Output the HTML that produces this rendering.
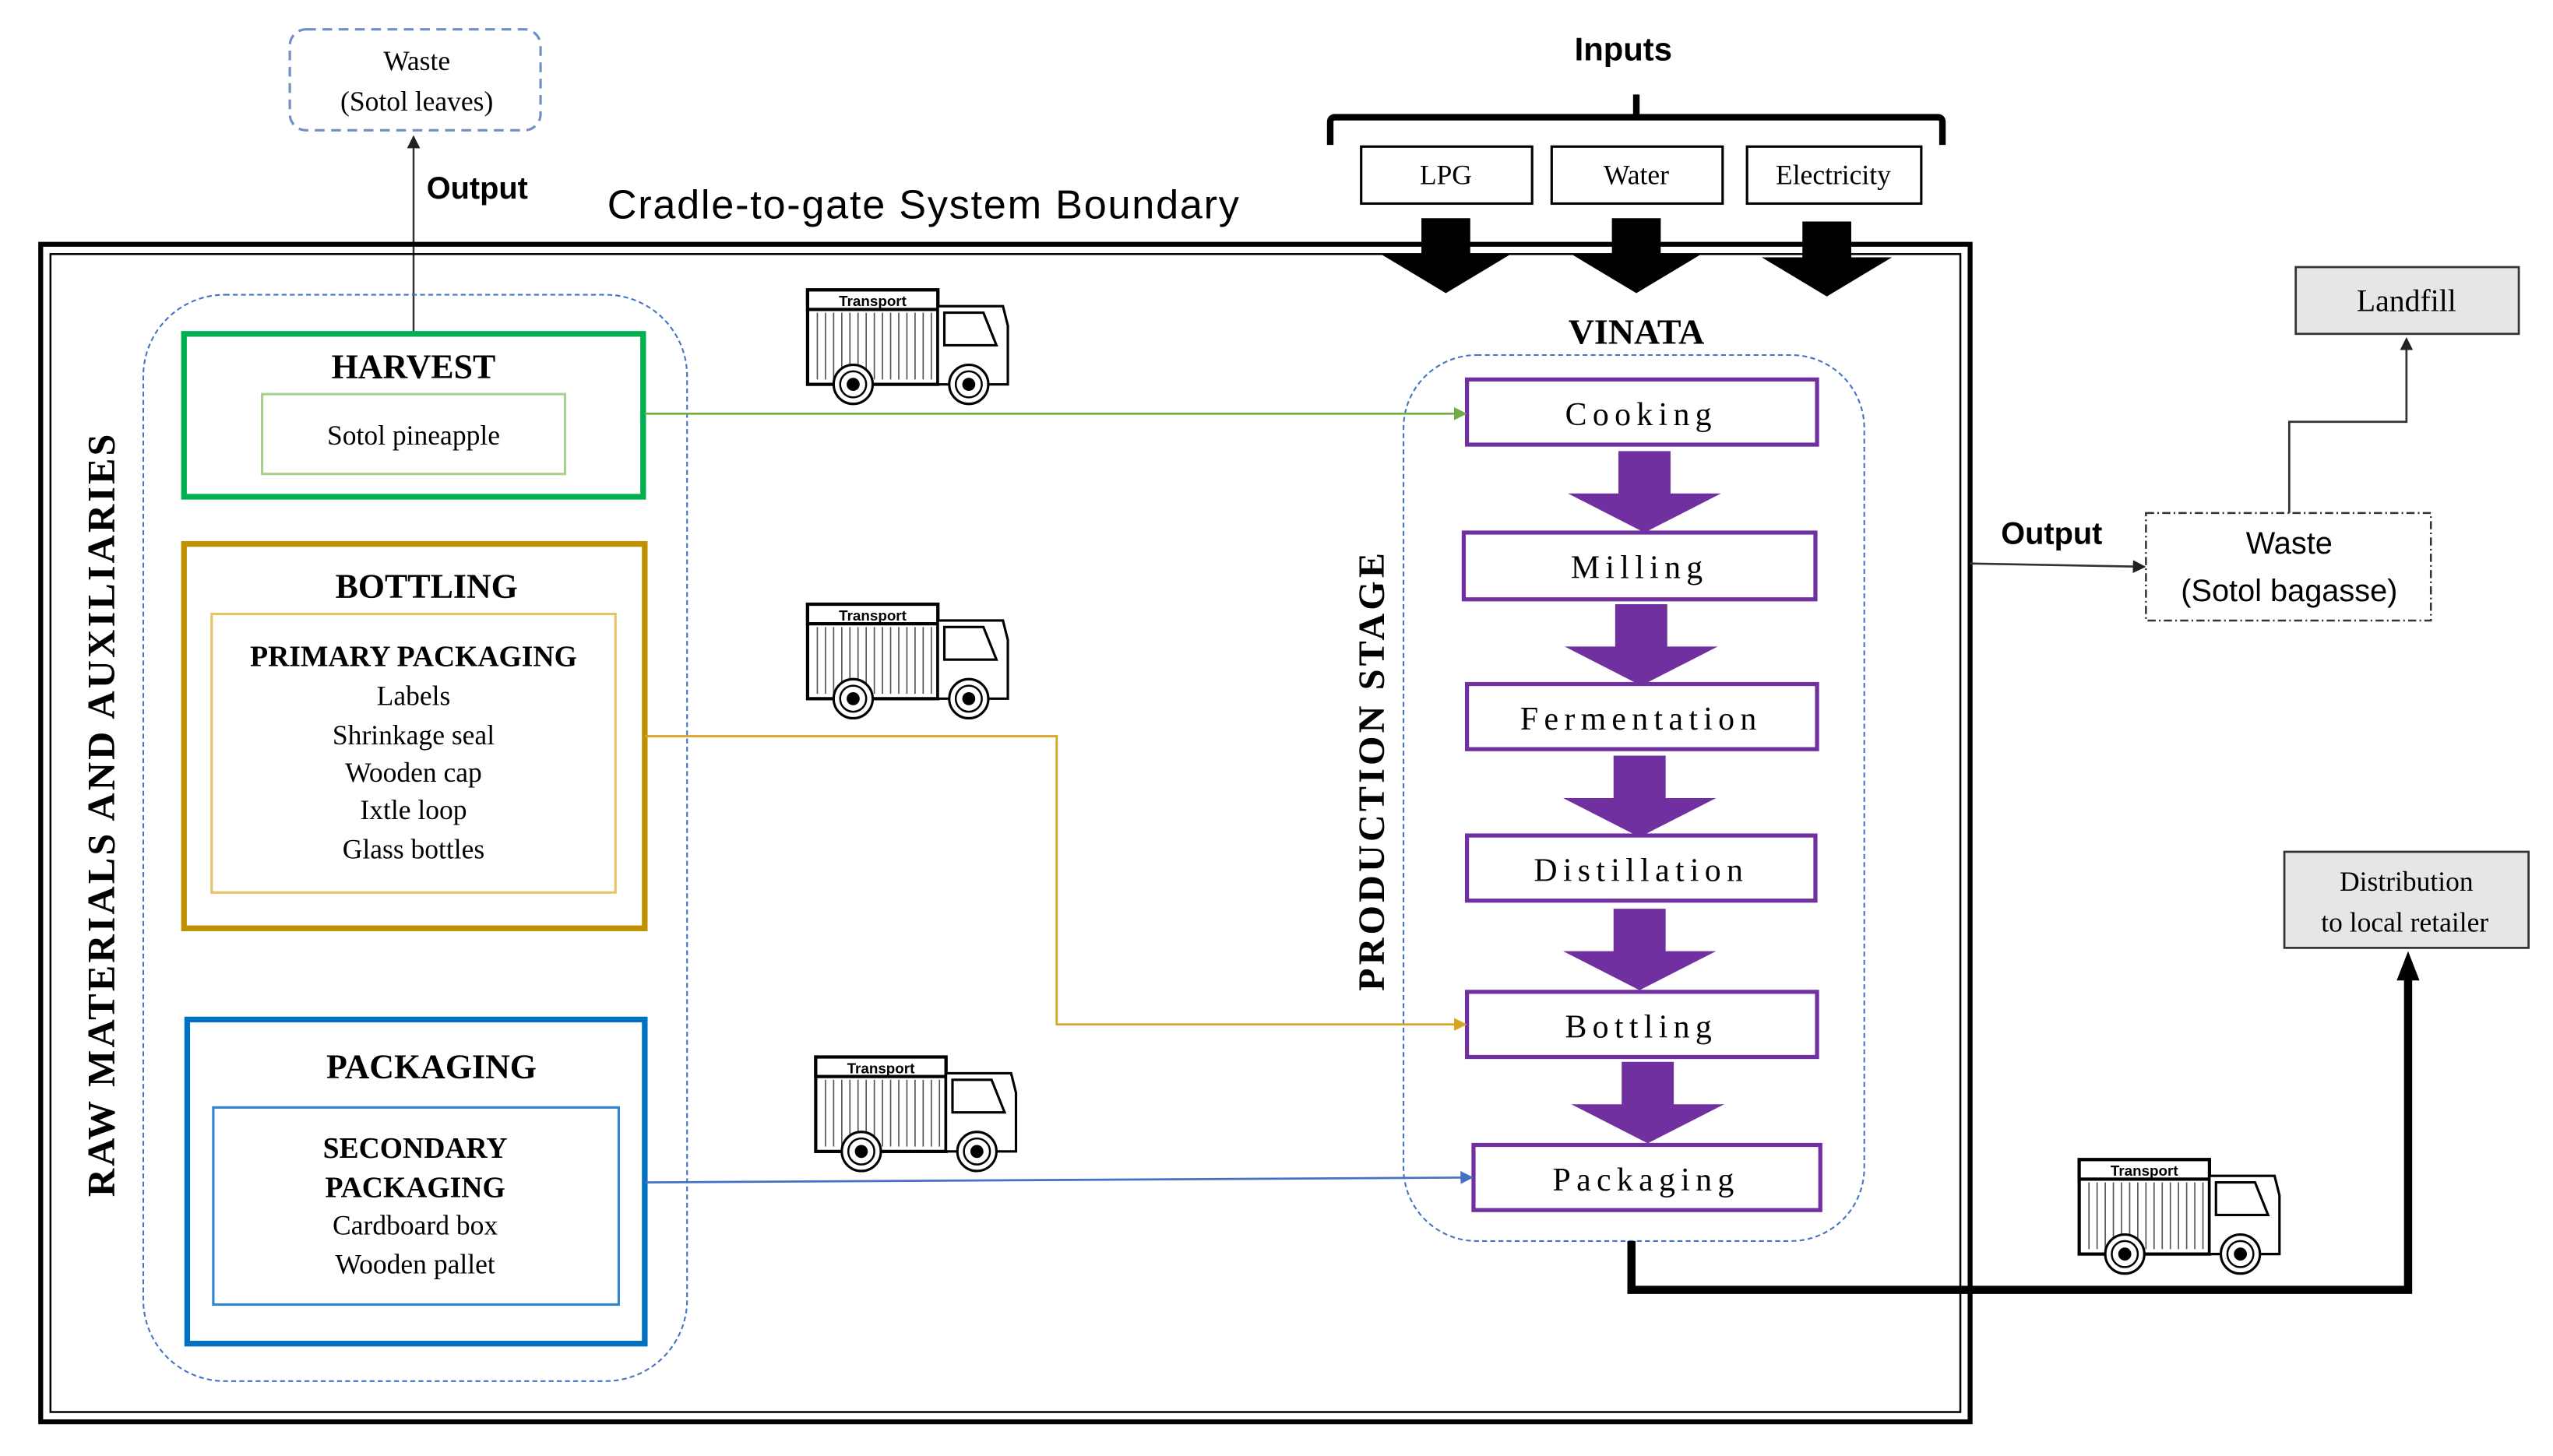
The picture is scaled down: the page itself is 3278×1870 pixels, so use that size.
<!DOCTYPE html>
<html><head><meta charset="utf-8"><style>html,body{margin:0;padding:0;background:#fff}svg{display:block}</style></head><body>
<svg width="3278" height="1870" viewBox="0 0 1568 894" preserveAspectRatio="none" xmlns="http://www.w3.org/2000/svg">
<defs>
<marker id="ab" markerWidth="8" markerHeight="8" refX="7" refY="4" orient="auto" markerUnits="userSpaceOnUse"><path d="M0,0 L8,4 L0,8 z" fill="#222"/></marker>
<marker id="ag" markerWidth="8" markerHeight="8" refX="7" refY="4" orient="auto" markerUnits="userSpaceOnUse"><path d="M0,0 L8,4 L0,8 z" fill="#70ad47"/></marker>
<marker id="ao" markerWidth="8" markerHeight="8" refX="7" refY="4" orient="auto" markerUnits="userSpaceOnUse"><path d="M0,0 L8,4 L0,8 z" fill="#d9a520"/></marker>
<marker id="al" markerWidth="8" markerHeight="8" refX="7" refY="4" orient="auto" markerUnits="userSpaceOnUse"><path d="M0,0 L8,4 L0,8 z" fill="#4472c4"/></marker>
<g id="truck">
<rect x="0" y="0" width="80" height="58" fill="#fff" stroke="#000" stroke-width="2"/>
<rect x="0" y="0" width="80" height="12" fill="#fff" stroke="#000" stroke-width="2"/>
<text x="40" y="10" font-family="Liberation Sans, sans-serif" font-size="9" font-weight="bold" text-anchor="middle">Transport</text>
<g stroke="#555" stroke-width="0.8">
<line x1="6" y1="14" x2="6" y2="55"/><line x1="11" y1="14" x2="11" y2="55"/><line x1="16" y1="14" x2="16" y2="55"/><line x1="21" y1="14" x2="21" y2="55"/><line x1="26" y1="14" x2="26" y2="55"/><line x1="31" y1="14" x2="31" y2="55"/><line x1="36" y1="14" x2="36" y2="55"/><line x1="41" y1="14" x2="41" y2="55"/><line x1="46" y1="14" x2="46" y2="55"/><line x1="51" y1="14" x2="51" y2="55"/><line x1="56" y1="14" x2="56" y2="55"/><line x1="61" y1="14" x2="61" y2="55"/><line x1="66" y1="14" x2="66" y2="55"/><line x1="71" y1="14" x2="71" y2="55"/><line x1="76" y1="14" x2="76" y2="55"/></g>
<path d="M80,10 L120,10 L123,22 L123,58 L80,58 z" fill="#fff" stroke="#000" stroke-width="1.5"/>
<path d="M84,14 L108,14 L116,34 L84,34 z" fill="#fff" stroke="#000" stroke-width="1.5"/>
<circle cx="28" cy="58" r="12" fill="#fff" stroke="#000" stroke-width="1.5"/><circle cx="28" cy="58" r="8" fill="#fff" stroke="#000" stroke-width="1.2"/><circle cx="28" cy="58" r="4" fill="#000"/>
<circle cx="99" cy="58" r="12" fill="#fff" stroke="#000" stroke-width="1.5"/><circle cx="99" cy="58" r="8" fill="#fff" stroke="#000" stroke-width="1.2"/><circle cx="99" cy="58" r="4" fill="#000"/>
</g>
<path id="parr" d="M-16,0 L16,0 L16,26 L47,26 L0,50 L-47,26 L-16,26 z" fill="#7030a0"/>
<path id="barr" d="M-15,0 L15,0 L15,22 L40,22 L0,46 L-40,22 L-15,22 z" fill="#000"/>
</defs>

<rect x="178" y="18" width="154" height="62" rx="10" fill="#fff" stroke="#6f8fc0" stroke-width="1.5" stroke-dasharray="6,4"/>
<g font-family="Liberation Serif, serif" font-size="17" text-anchor="middle">
<text x="256" y="43">Waste</text><text x="256" y="68">(Sotol leaves)</text></g>
<line x1="254" y1="205" x2="254" y2="84" stroke="#333" stroke-width="1.2" marker-end="url(#ab)"/>
<text x="262" y="122" font-family="Liberation Sans, sans-serif" font-size="19" font-weight="bold">Output</text>
<text x="373" y="134" font-family="Liberation Sans, sans-serif" font-size="25" textLength="388">Cradle-to-gate System Boundary</text>

<rect x="25" y="150" width="1185" height="723" fill="none" stroke="#000" stroke-width="3"/>
<rect x="31" y="156" width="1173" height="711" fill="none" stroke="#000" stroke-width="1.2"/>

<text x="997" y="37" font-family="Liberation Sans, sans-serif" font-size="20" font-weight="bold" text-anchor="middle">Inputs</text>
<path d="M817,89 L817,75 Q817,72 820,72 L1190,72 Q1193,72 1193,75 L1193,89 M1005,72 L1005,58" fill="none" stroke="#000" stroke-width="4"/>
<g fill="#fff" stroke="#000" stroke-width="1.5">
<rect x="836" y="90" width="105" height="35"/><rect x="953" y="90" width="105" height="35"/><rect x="1073" y="90" width="107" height="35"/></g>
<g font-family="Liberation Serif, serif" font-size="17" text-anchor="middle">
<text x="888" y="113">LPG</text><text x="1005" y="113">Water</text><text x="1126" y="113">Electricity</text></g>
<use href="#barr" x="888" y="134"/><use href="#barr" x="1005" y="134"/><use href="#barr" x="1122" y="136"/>

<text x="1005" y="211" font-family="Liberation Serif, serif" font-size="22" font-weight="bold" text-anchor="middle">VINATA</text>
<rect x="862" y="218" width="283" height="544" rx="45" fill="none" stroke="#4472c4" stroke-width="1" stroke-dasharray="3,2"/>
<text transform="translate(850,473) rotate(-90)" font-family="Liberation Serif, serif" font-size="23" font-weight="bold" text-anchor="middle" letter-spacing="2">PRODUCTION  STAGE</text>
<g fill="#fff" stroke="#7030a0" stroke-width="2.5">
<rect x="901" y="233" width="215" height="40"/><rect x="899" y="327" width="216" height="41"/><rect x="901" y="420" width="215" height="40"/><rect x="901" y="513" width="214" height="40"/><rect x="901" y="609" width="215" height="40"/><rect x="905" y="703" width="213" height="40"/></g>
<g font-family="Liberation Serif, serif" font-size="20" text-anchor="middle" letter-spacing="3.5">
<text x="1008" y="261">Cooking</text><text x="1007" y="355">Milling</text><text x="1008" y="448">Fermentation</text><text x="1008" y="541">Distillation</text><text x="1008" y="637">Bottling</text><text x="1011" y="731">Packaging</text></g>
<use href="#parr" x="1010" y="277"/><use href="#parr" x="1008" y="371"/><use href="#parr" x="1007" y="464"/><use href="#parr" x="1007" y="558"/><use href="#parr" x="1012" y="652"/>

<rect x="88" y="181" width="334" height="667" rx="50" fill="none" stroke="#4472c4" stroke-width="1" stroke-dasharray="3,2"/>
<text transform="translate(70,500) rotate(-90)" font-family="Liberation Serif, serif" font-size="24" font-weight="bold" text-anchor="middle" letter-spacing="1.5">RAW MATERIALS  AND AUXILIARIES</text>

<rect x="113" y="205" width="282" height="100" fill="#fff" stroke="#00b050" stroke-width="3.5"/>
<rect x="161" y="242" width="186" height="49" fill="#fff" stroke="#a9d18e" stroke-width="1.5"/>
<rect x="113" y="334" width="283" height="236" fill="#fff" stroke="#c09000" stroke-width="3.5"/>
<rect x="130" y="377" width="248" height="171" fill="#fff" stroke="#e6c36a" stroke-width="1.5"/>
<rect x="115" y="626" width="281" height="199" fill="#fff" stroke="#0070c0" stroke-width="3.5"/>
<rect x="131" y="680" width="249" height="121" fill="#fff" stroke="#2e86d0" stroke-width="1.5"/>
<g font-family="Liberation Serif, serif" text-anchor="middle">
<text x="254" y="232" font-size="21" font-weight="bold">HARVEST</text>
<text x="254" y="273" font-size="17">Sotol pineapple</text>
<text x="262" y="367" font-size="21" font-weight="bold">BOTTLING</text>
<text x="254" y="409" font-size="18" font-weight="bold">PRIMARY PACKAGING</text>
<text x="254" y="433" font-size="17">Labels</text>
<text x="254" y="457" font-size="17">Shrinkage  seal</text>
<text x="254" y="480" font-size="17">Wooden cap</text>
<text x="254" y="503" font-size="17">Ixtle loop</text>
<text x="254" y="527" font-size="17">Glass bottles</text>
<text x="265" y="662" font-size="21" font-weight="bold">PACKAGING</text>
<text x="255" y="711" font-size="18" font-weight="bold">SECONDARY</text>
<text x="255" y="735" font-size="18" font-weight="bold">PACKAGING</text>
<text x="255" y="758" font-size="17">Cardboard box</text>
<text x="255" y="782" font-size="17">Wooden pallet</text>
</g>

<line x1="396" y1="254" x2="900" y2="254" stroke="#70ad47" stroke-width="1.3" marker-end="url(#ag)"/>
<polyline points="396,452 649,452 649,629 900,629" fill="none" stroke="#d9a520" stroke-width="1.3" marker-end="url(#ao)"/>
<line x1="396" y1="726" x2="904" y2="723" stroke="#4472c4" stroke-width="1.3" marker-end="url(#al)"/>

<use href="#truck" x="496" y="178"/><use href="#truck" x="496" y="371"/><use href="#truck" x="501" y="649"/><use href="#truck" x="1277" y="712"/>

<line x1="1210" y1="346" x2="1317" y2="348" stroke="#333" stroke-width="1.3" marker-end="url(#ab)"/>
<text x="1229" y="334" font-family="Liberation Sans, sans-serif" font-size="19" font-weight="bold">Output</text>
<rect x="1318" y="315" width="175" height="66" fill="#fff" stroke="#333" stroke-width="1.2" stroke-dasharray="5,2,1,2"/>
<g font-family="Liberation Sans, sans-serif" font-size="19" text-anchor="middle">
<text x="1406" y="340">Waste</text><text x="1406" y="369">(Sotol bagasse)</text></g>
<polyline points="1406,315 1406,259 1478,259 1478,208" fill="none" stroke="#333" stroke-width="1.3" marker-end="url(#ab)"/>
<rect x="1410" y="164" width="137" height="41" fill="#e6e6e6" stroke="#333" stroke-width="1.3"/>
<text x="1478" y="191" font-family="Liberation Serif, serif" font-size="19" text-anchor="middle">Landfill</text>
<rect x="1403" y="523" width="150" height="59" fill="#e6e6e6" stroke="#333" stroke-width="1.3"/>
<g font-family="Liberation Serif, serif" font-size="17" text-anchor="middle">
<text x="1478" y="547">Distribution</text><text x="1477" y="572">to local  retailer</text></g>
<polyline points="1002,762 1002,792 1479,792 1479,600" fill="none" stroke="#000" stroke-width="5"/>
<path d="M1479,584 L1486,602 L1472,602 z" fill="#000"/>
</svg>
</body></html>
